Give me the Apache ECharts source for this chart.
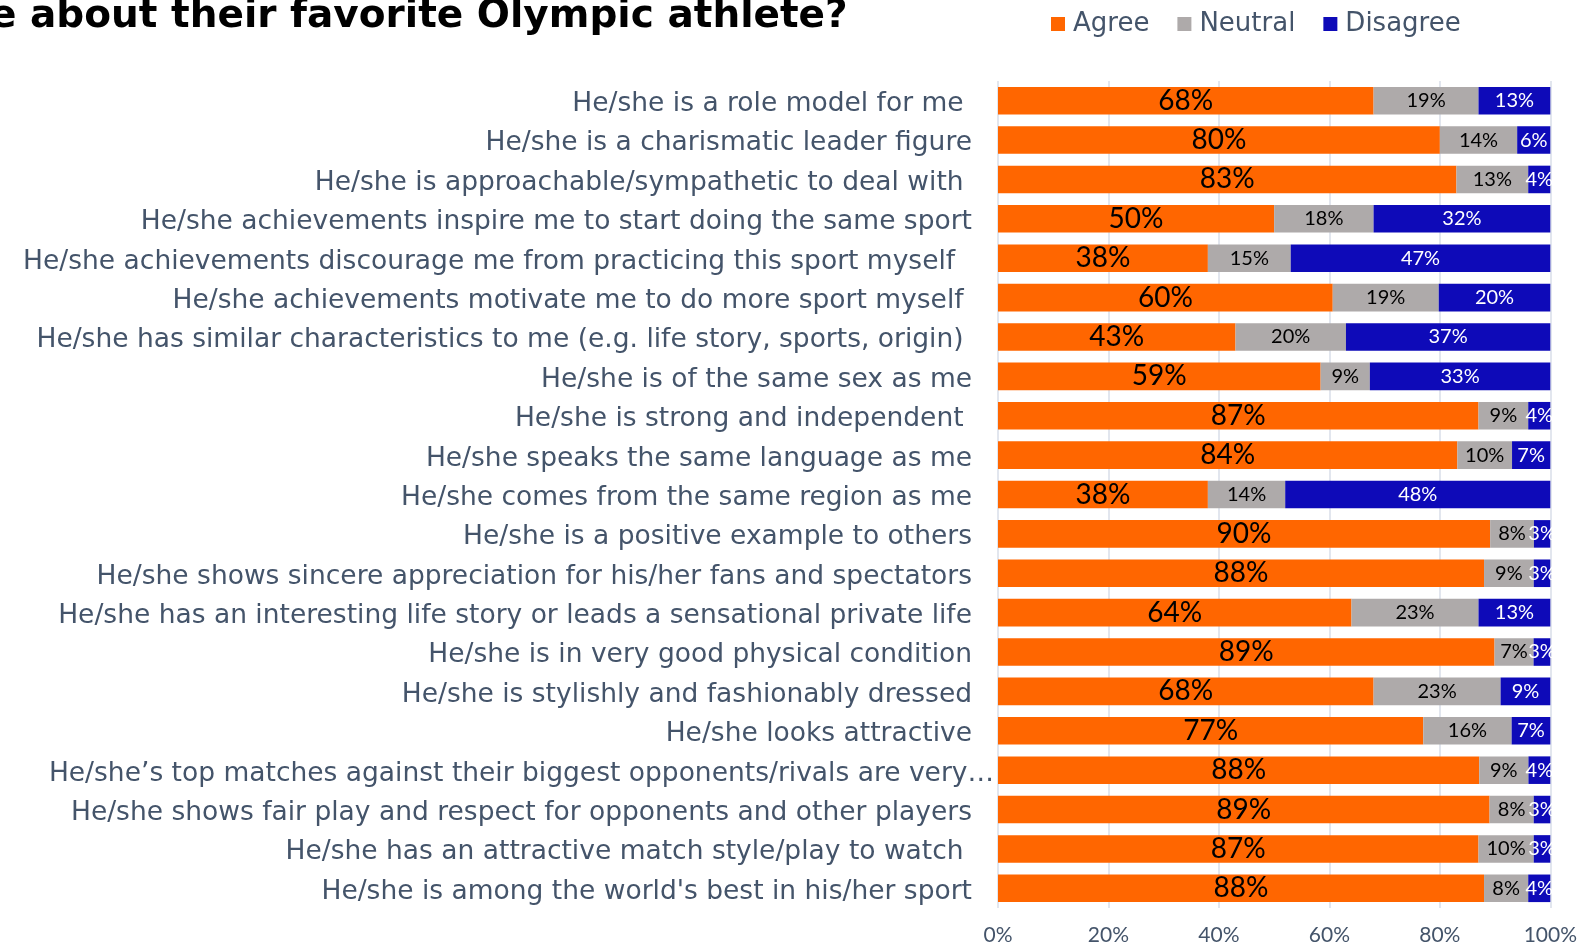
<!DOCTYPE html>
<html>
<head>
<meta charset="utf-8">
<script src="https://cdn.jsdelivr.net/npm/echarts@6/dist/echarts.min.js"></script>
<style>
html,body{margin:0;padding:0;background:#fff;}
#chart{width:1580px;height:946px;}
</style>
</head>
<body>
<div id="chart"></div>
<script>
const categories = [
  "He/she is a role model for me ",
  "He/she is a charismatic leader figure",
  "He/she is approachable/sympathetic to deal with ",
  "He/she achievements inspire me to start doing the same sport",
  "He/she achievements discourage me from practicing this sport myself  ",
  "He/she achievements motivate me to do more sport myself ",
  "He/she has similar characteristics to me (e.g. life story, sports, origin) ",
  "He/she is of the same sex as me",
  "He/she is strong and independent ",
  "He/she speaks the same language as me",
  "He/she comes from the same region as me",
  "He/she is a positive example to others",
  "He/she shows sincere appreciation for his/her fans and spectators",
  "He/she has an interesting life story or leads a sensational private life",
  "He/she is in very good physical condition",
  "He/she is stylishly and fashionably dressed",
  "He/she looks attractive",
  "He/she\u2019s top matches against their biggest opponents/rivals are very\u2026",
  "He/she shows fair play and respect for opponents and other players",
  "He/she has an attractive match style/play to watch ",
  "He/she is among the world's best in his/her sport"
];
const agree    = [68,80,83,50,38,60,43,59,87,84,38,90,88,64,89,68,77,88,89,87,88];
const neutral  = [19,14,13,18,15,19,20, 9, 9,10,14, 8, 9,23, 7,23,16, 9, 8,10, 8];
const disagree = [13, 6, 4,32,47,20,37,33, 4, 7,48, 3, 3,13, 3, 9, 7, 4, 3, 3, 4];
const xTicks = [0,20,40,60,80,100];
const seriesNames = ["Agree","Neutral","Disagree"];

const totals = agree.map((a,i)=>a+neutral[i]+disagree[i]);
function share(arr){ return arr.map((v,i)=>({value: v/totals[i]*100, raw: v})); }

const chart = echarts.init(document.getElementById('chart'));
const labelFont = 'Lato, "Open Sans", sans-serif';
const axisFont = '"DejaVu Sans", Verdana, sans-serif';

function mkSeries(name, arr, color, lblColor, lblSize){
  return {
    name: name, type: 'bar', stack: 'total',
    barCategoryGap: '30%',
    data: share(arr),
    itemStyle: {color: color},
    label: {
      show: true, position: 'inside',
      color: lblColor, fontSize: lblSize, fontFamily: labelFont,
      padding: [3,0,0,0],
      formatter: p => p.data.raw + '%'
    },
    emphasis: {disabled: true}
  };
}

chart.setOption({
  animation: false,
  backgroundColor: '#ffffff',
  graphic: [{
    type: 'text', x: -10, y: 17,
    style: {text: 'e about their favorite Olympic athlete?', font: 'bold 39px "DejaVu Sans", sans-serif', fill: '#000000', verticalAlign: 'middle'}
  }],
  legend: {
    data: seriesNames,
    top: 6, left: 1046,
    itemWidth: 14, itemHeight: 14, itemGap: 28,
    icon: 'rect',
    textStyle: {color: '#44546a', fontSize: 26, fontFamily: axisFont, padding: [2,0,0,3]}
  },
  grid: {left: 998, right: 29, top: 81, bottom: 38, containLabel: false},
  xAxis: {
    type: 'value', min: 0, max: 100, interval: 20,
    axisLine: {show: false}, axisTick: {show: false},
    splitLine: {show: true, lineStyle: {color: '#d9dee8', width: 1.5}},
    axisLabel: {formatter: '{value}%', color: '#44546a', fontSize: 21, fontFamily: labelFont, margin: 17}
  },
  yAxis: {
    type: 'category', data: categories, inverse: true,
    axisLine: {show: false}, axisTick: {show: false},
    axisLabel: {
      color: '#44546a', fontSize: 26.5, fontFamily: axisFont, margin: 26, padding: [7,0,0,0],
      formatter: v => v.endsWith('\u2026') ? '{l|' + v + '}' : v,
      rich: {l: {color: '#44546a', fontSize: 26.5, fontFamily: axisFont, padding: [0,-22,0,0]}}
    }
  },
  series: [
    mkSeries('Agree', agree, '#ff6600', '#000000', 28),
    mkSeries('Neutral', neutral, '#aeaaaa', '#000000', 20),
    mkSeries('Disagree', disagree, '#0e0ab8', '#ffffff', 20)
  ]
});
</script>
</body>
</html>
